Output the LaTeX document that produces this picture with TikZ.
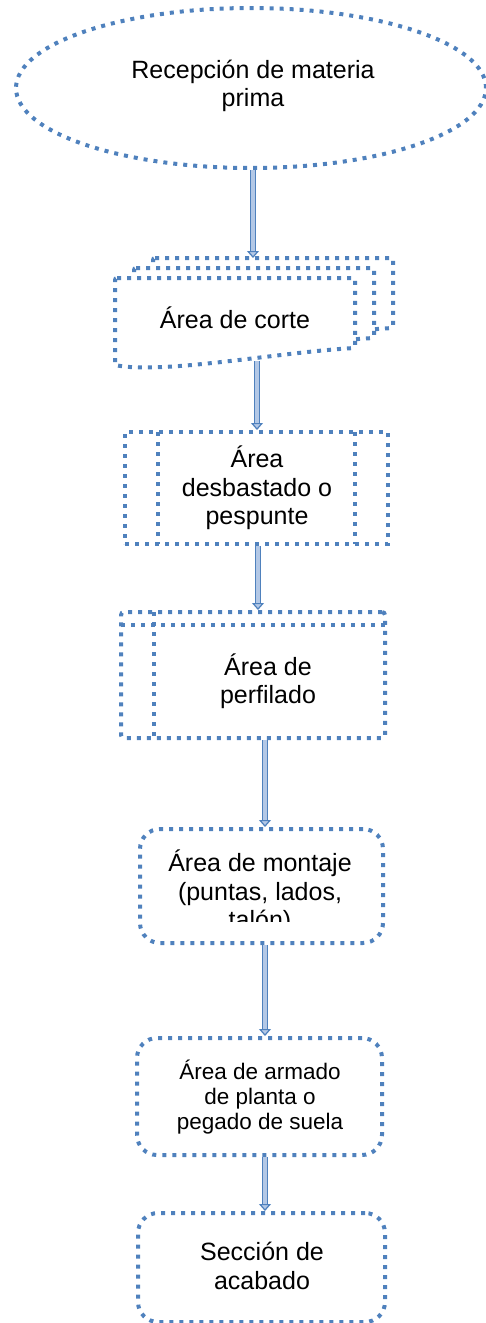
\documentclass[tikz,border=0pt]{standalone}
\usepackage{fontspec}
\setmainfont{Liberation Sans}
\usetikzlibrary{arrows.meta,shapes.geometric}
\definecolor{dotblue}{HTML}{4F81BD}
\definecolor{arrowfill}{HTML}{B3C8E6}
\begin{document}
\begin{tikzpicture}[x=1pt,y=-1pt,
  dotline/.style={draw=dotblue, line width=4pt, dash pattern=on 4pt off 6pt},
  txt/.style={font=\fontsize{25}{28.5}\selectfont, align=center, text=black, inner sep=0pt},
  smalltxt/.style={font=\fontsize{22.5}{25}\selectfont, align=center, text=black, inner sep=0pt},
  flowarrow/.style={draw=dotblue, line width=1.2pt, double=arrowfill, double distance=3.8pt,
    -{Triangle[length=7pt, width=12pt, fill=arrowfill]}},
  roundbox/.style={dotline, rounded corners=20pt, inner sep=0pt}
]
\useasboundingbox (0,0) rectangle (485,1323);

% 1 ellipse
\node[ellipse, dotline, minimum width=470pt, minimum height=160pt, inner sep=0pt] (recep) at (251,88) {};
\node[txt] (recepT) at (253,86) {Recepción de materia\\prima};

% 2 multidocument
\foreach \dx/\dy in {38/-20, 19/-10, 0/0} {
  \draw[dotline, fill=white, rounded corners=2pt]
    (115+\dx,278+\dy) -- (355+\dx,278+\dy) -- (355+\dx,348+\dy) [sharp corners]
    .. controls (280+\dx,352+\dy) and (160+\dx,375+\dy) .. (115+\dx,365+\dy) [rounded corners=2pt] -- cycle;
}
\node[txt] (corte) at (235,318) {Área de corte};
\coordinate (corteIn) at (253,258);
\coordinate (corteOut) at (257,361);

% 3 predefined process
\node[rectangle, dotline, minimum width=263pt, minimum height=112pt, inner sep=0pt] (desb) at (256.5,488) {};
\draw[dotline] (158,432) -- (158,544);
\draw[dotline] (355,432) -- (355,544);
\node[txt] (desbT) at (257,488) {Área\\desbastado o\\pespunte};

% 4 internal storage
\node[rectangle, dotline, rounded corners=3pt, minimum width=264pt, minimum height=126pt, inner sep=0pt] (perf) at (253,675) {};
\draw[dotline] (154,612) -- (154,738);
\draw[dotline] (121,625) -- (385,625);
\node[txt] (perfT) at (268,681) {Área de\\perfilado};

% 5 montaje
\node[roundbox, minimum width=243pt, minimum height=114pt] (mont) at (261.5,886) {};
\begin{scope}
  \clip (0,0) rectangle (485,921);
  \node[txt] (montT) at (260,892) {Área de montaje\\(puntas, lados,\\talón)};
\end{scope}

% 6 armado
\node[roundbox, minimum width=245pt, minimum height=117pt] (arm) at (259.5,1096.5) {};
\node[smalltxt] (armT) at (260,1097) {Área de armado\\de planta o\\pegado de suela};

% 7 acabado
\node[roundbox, minimum width=247pt, minimum height=109pt] (acab) at (261.5,1267.5) {};
\node[txt] (acabT) at (262,1266) {Sección de\\acabado};

% arrows
\coordinate (a3) at (258,0);
\coordinate (a4) at (265,0);
\draw[flowarrow] (corteIn |- recep.south) -- (corteIn);
\draw[flowarrow] (corteOut) -- (corteOut |- desb.north);
\draw[flowarrow] (a3 |- desb.south) -- (a3 |- perf.north);
\draw[flowarrow] (a4 |- perf.south) -- (a4 |- mont.north);
\draw[flowarrow] (a4 |- mont.south) -- (a4 |- arm.north);
\draw[flowarrow] (a4 |- arm.south) -- (a4 |- acab.north);
\end{tikzpicture}
\end{document}
